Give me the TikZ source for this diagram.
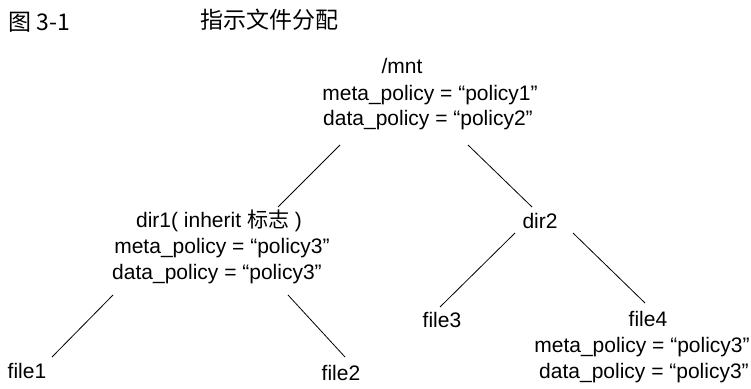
\documentclass[tikz,border=0pt]{standalone}
\usepackage{fontspec}
\setmainfont{Liberation Sans}
\newfontfamily\cjk{Noto Sans CJK SC}
\tikzset{
  txt/.style={anchor=base, inner sep=0pt, font=\fontsize{21}{25}\selectfont},
  ttl/.style={anchor=base west, inner sep=0pt, font=\cjk\fontsize{23}{27}\selectfont},
  branch/.style={line width=0.8pt}
}
\begin{document}
\begin{tikzpicture}[x=1pt, y=-1pt]
  \useasboundingbox (0,0) rectangle (751,388);
  \node[ttl] (fig) at (8,30) {图 3-1};
  \node[ttl] (title) at (200,28) {指示文件分配};
  % root
  \node[txt] (mnt) at (402,73) {/mnt};
  \node[txt] (mnt-meta) at (430,100) {meta\_policy = “policy1”};
  \node[txt] (mnt-data) at (428,125) {data\_policy = “policy2”};
  % dir1
  \node[txt] (dir1) at (219,227) {dir1( inherit {\cjk 标志} )};
  \node[txt] (dir1-meta) at (222,253) {meta\_policy = “policy3”};
  \node[txt] (dir1-data) at (217,279) {data\_policy = “policy3”};
  % dir2
  \node[txt] (dir2) at (540,228) {dir2};
  % files
  \node[txt] (file1) at (27,378) {file1};
  \node[txt] (file2) at (341,380) {file2};
  \node[txt] (file3) at (442,327) {file3};
  \node[txt] (file4) at (648,326) {file4};
  \node[txt] (file4-meta) at (642,352) {meta\_policy = “policy3”};
  \node[txt] (file4-data) at (644,378) {data\_policy = “policy3”};
  \draw[branch] ([shift={(-88,20)}]mnt-data.base) -- ([shift={(59,-20)}]dir1.base);
  \draw[branch] ([shift={(40,20)}]mnt-data.base) -- ([shift={(-8,-21)}]dir2.base);
  \draw[branch] ([shift={(-104,16)}]dir1-data.base) -- ([shift={(25,-21)}]file1.base);
  \draw[branch] ([shift={(71,16)}]dir1-data.base) -- ([shift={(4,-23)}]file2.base);
  \draw[branch] ([shift={(-25,5)}]dir2.base) -- ([shift={(-2,-20)}]file3.base);
  \draw[branch] ([shift={(33,5)}]dir2.base) -- ([shift={(-3,-23)}]file4.base);
\end{tikzpicture}
\end{document}
